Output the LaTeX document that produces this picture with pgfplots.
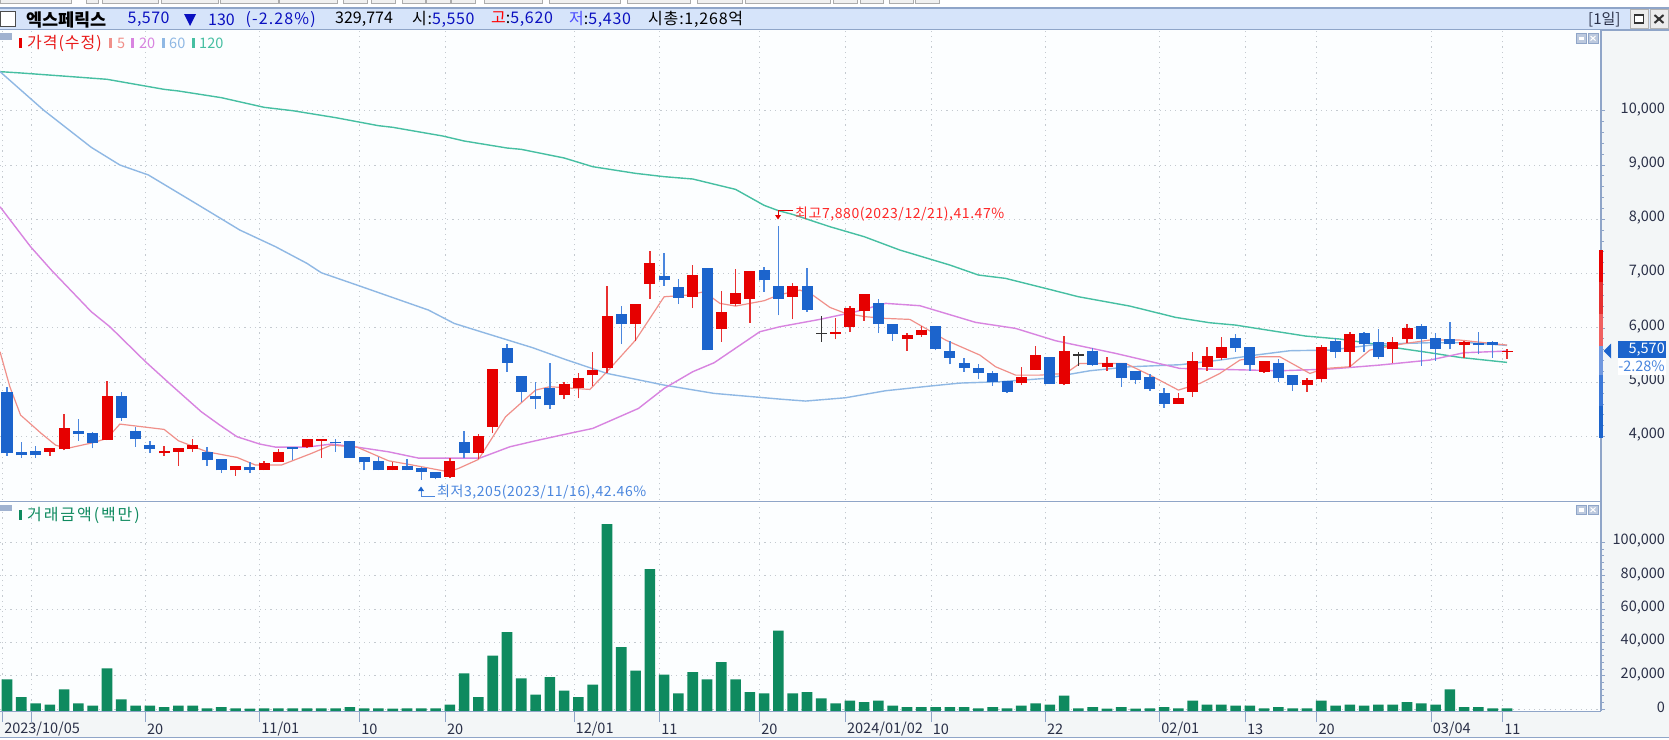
\documentclass[border=0pt]{standalone}
\usepackage{fontspec}
\setmainfont{Noto Sans CJK KR}
\usepackage{pgfplots}
\usepackage{pgfplotstable}
\pgfplotsset{compat=1.18}
\definecolor{cRed}{HTML}{E60000}
\definecolor{cRedW}{HTML}{E83030}
\definecolor{cBlue}{HTML}{1C64CC}
\definecolor{cBlueW}{HTML}{4A86DE}
\definecolor{cMA5}{HTML}{F0908A}
\definecolor{cMA20}{HTML}{D884E0}
\definecolor{cMA60}{HTML}{8FB8E4}
\definecolor{cMA120}{HTML}{46BFA2}
\definecolor{cVol}{HTML}{0F8A5F}
\definecolor{cAxis}{HTML}{8FA5C8}
\definecolor{cPanel}{HTML}{F3F6F7}
\definecolor{cHead}{HTML}{D6E4FA}
\definecolor{cNavy}{HTML}{0A10C0}
\definecolor{cTxt}{HTML}{2A3048}
\definecolor{cGrid}{HTML}{C4CAD0}
\definecolor{cBack}{HTML}{FCFEFF}
\definecolor{sA}{HTML}{E80000}
\definecolor{sB}{HTML}{E63030}
\definecolor{sC}{HTML}{F06060}
\definecolor{sD}{HTML}{7098DF}
\definecolor{sE}{HTML}{3B78D8}
\pgfplotstableread{
i top bot hi lo
3 3781 3720 3781 3646
4 4150 3763 4408 3745
7 4752 3929 5028 3929
11 3739 3689 3825 3646
12 3788 3720 3788 3462
13 3849 3769 3947 3720
16 3462 3376 3462 3278
18 3505 3376 3554 3376
19 3720 3536 3763 3536
21 3947 3812 3947 3788
22 3947 3923 3947 3603
27 3462 3376 3530 3376
31 3554 3260 3597 3229
33 4015 3696 4039 3579
34 5237 4181 5237 4058
39 4973 4764 5010 4684
40 5071 4899 5163 4703
41 5218 5126 5556 4930
42 6225 5261 6778 5163
44 6434 6072 6434 5759
45 7189 6809 7423 6532
48 6980 6575 7165 6366
50 6293 5980 6686 5746
51 6637 6440 7079 6403
52 7054 6538 7054 6096
55 6772 6575 6821 6158
58 5924 5894 6176 5795
59 6360 6022 6409 5924
60 6618 6305 6618 6133
63 5875 5795 5899 5580
64 5967 5863 6034 5838
71 5101 4991 5279 4948
72 5506 5224 5672 5224
74 5580 4960 5856 4948
77 5347 5279 5463 5212
82 4702 4597 4794 4597
83 5396 4825 5556 4733
84 5482 5285 5648 5212
85 5648 5445 5832 5408
88 5396 5193 5396 5175
91 5046 4942 5077 4825
92 5648 5052 5691 5009
94 5881 5562 5924 5279
97 5740 5605 5832 5353
98 5992 5789 6065 5715
102 5740 5678 5764 5445
105 5570 5550 5620 5430
}\upTable
\pgfplotstableread{
i top bot hi lo
0 4825 3689 4905 3646
1 3714 3653 3898 3610
2 3739 3653 3831 3610
5 4107 4039 4316 3923
6 4058 3880 4082 3781
8 4752 4340 4819 4291
9 4107 3947 4181 3812
10 3849 3769 3923 3696
14 3720 3560 3800 3462
15 3579 3376 3579 3327
17 3438 3376 3524 3327
20 3800 3763 3800 3567
23 3898 3874 3953 3720
24 3923 3603 3923 3603
25 3622 3536 3622 3376
26 3554 3376 3622 3376
28 3462 3376 3579 3376
29 3419 3352 3438 3205
30 3352 3235 3352 3211
32 3898 3696 4107 3597
35 5623 5353 5697 5194
36 5120 4825 5120 4629
37 4745 4684 5010 4506
38 4899 4574 5347 4506
43 6250 6072 6409 5703
46 6962 6882 7373 6778
47 6753 6557 6894 6440
49 7097 5587 7097 5587
53 7073 6882 7116 6667
54 6778 6538 7880 6231
56 6778 6330 7097 6299
61 6464 6071 6526 5906
62 6065 5893 6065 5764
65 6034 5605 6034 5586
66 5580 5451 5758 5328
67 5347 5267 5439 5193
68 5255 5169 5334 5058
69 5163 5003 5212 4935
70 5021 4825 5021 4806
73 5463 4966 5463 4966
76 5580 5316 5623 5304
78 5347 5083 5347 4917
79 5212 5034 5212 4960
80 5089 4868 5156 4843
81 4794 4597 4886 4530
86 5807 5629 5881 5562
87 5648 5310 5648 5212
89 5347 5077 5420 5009
90 5138 4942 5138 4843
93 5764 5562 5807 5445
95 5899 5697 5924 5562
96 5740 5470 5973 5420
99 6041 5789 6065 5304
100 5807 5605 5899 5396
101 5789 5703 6108 5605
103 5721 5678 5924 5513
104 5740 5678 5764 5445
}\downTable
\pgfplotstableread{
i top bot hi lo
57 5912 5888 6219 5746
75 5512 5488 5549 5304
}\dojiTable
\pgfplotstableread{
i v
0 17800
1 7200
2 3400
3 2600
4 11800
5 3400
6 2000
7 24400
8 5800
9 2000
10 2000
11 1200
12 2000
13 2000
14 400
15 1200
16 400
17 200
18 400
19 400
20 400
21 400
22 400
23 400
24 1200
25 400
26 400
27 200
28 400
29 400
30 400
31 2600
32 21400
33 7200
34 32000
35 46200
36 18400
37 8600
38 19200
39 11000
40 7200
41 14600
42 111000
43 37200
44 23000
45 84000
46 20600
47 9400
48 22200
49 17800
50 28200
51 17800
52 10200
53 9400
54 47000
55 9400
56 10200
57 6400
58 3400
59 5000
60 4200
61 5000
62 2000
63 1200
64 1200
65 1200
66 1200
67 1200
68 400
69 1200
70 400
71 2000
72 3400
73 2600
74 8000
75 400
76 1200
77 200
78 1200
79 200
80 400
81 1200
82 400
83 5000
84 2600
85 2600
86 2000
87 2000
88 400
89 1200
90 400
91 400
92 5000
93 2000
94 2600
95 2000
96 2600
97 2600
98 4200
99 3400
100 2600
101 11800
102 1200
103 1200
104 400
105 400
}\volTable
\pgfplotsset{
 myframe/.style={
  scale only axis, width=1601pt,
  xmin=-0.49, xmax=111.58,
  axis line style={draw=none},
  axis background/.style={fill=cBack},
  tick align=outside,
  xmajorgrids, ymajorgrids,
  major grid style={cGrid, line width=0.9pt, dash pattern=on 1.2pt off 4pt},
  ytick pos=right,
  y tick style={cAxis, line width=0.8pt},
  minor y tick style={cAxis, line width=0.8pt},
  major tick length=4pt, minor tick length=3pt,
  xtick={-0.31,1.69,9.69,17.69,24.69,30.69,39.69,45.69,52.69,58.69,64.69,72.69,80.69,86.69,91.69,99.69,104.69},
  scaled y ticks=false,
  y tick label style={/pgf/number format/.cd,fixed,1000 sep={,},assume math mode=true,/tikz/.cd,
    font=\fontsize{14.5}{16}\selectfont, text=cTxt, anchor=east, xshift=63.5pt, yshift=1.5pt},
 },
 wick/.style={no markers, draw=none, forget plot,
   error bars/.cd, y dir=plus, y explicit, error mark=none,
   error bar style={color=#1, line width=1.5pt}},
 body/.style={no markers, draw=none, forget plot,
   error bars/.cd, y dir=plus, y explicit, error mark=none,
   error bar style={color=#1, line width=11pt}},
}
\newcommand{\lsp}[1]{\addfontfeature{LetterSpace=#1}}
\begin{document}
\begin{tikzpicture}[x=1pt,y=-1pt]
\path[use as bounding box] (0,0) rectangle (1669,739);
% window backgrounds
\fill[white] (0,0) rectangle (1669,739);
\fill[cPanel] (1602,30) rectangle (1669,737);
\fill[cPanel] (0,711) rectangle (1669,737);
% toolbar stubs
\foreach \a/\b in {0/71,86/98,102/158,161/218,220/278,279/337,343/367,371/395,402/425,426/450,451/475,484/542,549/620,627/690,697/742,745/830,833/857,860/883,889/913,915/939}{
  \filldraw[fill=gray!12, draw=gray!65, line width=0.8pt] (\a,-2) rectangle (\b,3);
}
% header band
\fill[cHead] (0,8) rectangle (1669,30);
\draw[cAxis, line width=1.2pt] (0,8) -- (1669,8);
\draw[cAxis, line width=1.2pt] (0,30) -- (1669,30);
\begin{axis}[myframe, at={(0pt,-500pt)}, anchor=south west, height=470pt,
  ymin=2831, ymax=11486,
  xticklabels={}, x tick style={draw=none},
  ytick={4000,5000,6000,7000,8000,9000,10000}, minor y tick num=4]
\addplot[cMA120, line width=1.4pt] coordinates {(-0.49,10719)(1,10694)(4.5,10627)(7,10578)(11,10393)(12,10363)(15,10240)(18,10062)(20,10000)(23,9872)(26,9724)(27,9694)(30.5,9534)(32,9442)(35,9313)(36,9288)(39,9129)(41,8969)(44,8846)(46,8785)(48,8742)(51,8551)(53,8257)(54,8159)(55,8090)(57.6,7864)(60,7680)(62.5,7434)(66,7158)(68,6974)(69.9,6912)(72.7,6728)(75,6574)(78.6,6402)(81.8,6194)(84.2,6095)(86,6052)(90.9,5850)(93.3,5795)(95.4,5715)(97.5,5623)(99.6,5543)(101.7,5457)(105,5365)};
\addplot[cMA60, line width=1.4pt] coordinates {(-0.49,10719)(2.55,10013)(5.9,9325)(7.9,9000)(9.9,8816)(13.4,8263)(16.3,7802)(18.8,7495)(21,7188)(22,7016)(24.5,6789)(29.5,6329)(31.3,6083)(33.4,5911)(36.8,5635)(39.2,5408)(42,5162)(46,4947)(49.5,4794)(54.1,4689)(55.9,4653)(58.7,4714)(61.5,4843)(64.6,4929)(66.7,4984)(69.5,5009)(72.7,5070)(75.8,5211)(78.6,5285)(82.1,5322)(84.9,5408)(87.4,5500)(89.8,5580)(92.6,5592)(96.1,5703)(99.6,5727)(102.4,5727)(105,5678)};
\addplot[cMA20, line width=1.4pt] coordinates {(-0.49,8232)(1.65,7495)(3.1,7066)(5.9,6298)(7.2,6022)(9.7,5377)(11.5,4947)(13.6,4456)(14.9,4210)(16.1,3996)(17.7,3861)(18.8,3805)(21,3805)(22.7,3861)(24.5,3805)(26.7,3719)(28.8,3603)(33.1,3603)(35.2,3811)(37,3922)(38.8,4026)(41,4149)(44.2,4517)(46,4886)(48,5193)(49.5,5359)(52.7,5930)(54.1,6022)(56.9,6157)(59.4,6298)(61.5,6452)(63.9,6409)(67.8,6102)(70.6,5991)(73.4,5764)(77.6,5531)(82.1,5254)(89.1,5211)(92.6,5242)(96.1,5316)(99.6,5408)(102,5543)(105,5574)};
\addplot[cMA5, line width=1.2pt] coordinates {(-0.49,5561)(0.2,4917)(0.95,4395)(2.4,4057)(3.4,3842)(4.2,3781)(6,3885)(7,3965)(7.9,4229)(11,4131)(12,3922)(14,3719)(16.1,3615)(17.4,3474)(19.2,3474)(21.3,3688)(22.7,3842)(24.5,3805)(26.7,3554)(28.4,3474)(30.9,3351)(31.6,3412)(33,3578)(34.9,4364)(37,4855)(38,4917)(40.8,4867)(42,5193)(44,5776)(46,6574)(47.7,6605)(48.8,6666)(49.9,6452)(51,6402)(53,6501)(54,6605)(55.5,6697)(56.4,6605)(57.6,6378)(58.7,6267)(60.1,6206)(61.5,6175)(63.2,6157)(64.3,5991)(65.7,5776)(68.1,5500)(69.2,5285)(70.6,5131)(72.3,5131)(74.1,5162)(75.1,5346)(78.3,5346)(80,5131)(82,4855)(83.5,4978)(84.9,5162)(86.3,5408)(87.7,5469)(89.1,5469)(91.2,5162)(92.3,5254)(94,5285)(95.4,5592)(97.9,5715)(99.6,5776)(101.7,5776)(105,5684)};
% wicks
\addplot[wick=cRedW] table[x=i,y=lo,y error expr=\thisrow{hi}-\thisrow{lo}] {\upTable};
\addplot[wick=cBlueW] table[x=i,y=lo,y error expr=\thisrow{hi}-\thisrow{lo}] {\downTable};
\addplot[wick={black!80}] table[x=i,y=lo,y error expr=\thisrow{hi}-\thisrow{lo}] {\dojiTable};
% bodies
\addplot[body=cRed] table[x=i,y=bot,y error expr=\thisrow{top}-\thisrow{bot}] {\upTable};
\addplot[body=cBlue] table[x=i,y=bot,y error expr=\thisrow{top}-\thisrow{bot}] {\downTable};
\addplot[body={black!80}] table[x=i,y=bot,y error expr=\thisrow{top}-\thisrow{bot}] {\dojiTable};
\end{axis}
\begin{axis}[myframe, at={(0pt,-711pt)}, anchor=south west, height=208pt,
  ymin=-1200, ymax=123600,
  ytick={0,20000,40000,60000,80000,100000}, minor y tick num=4,
  xticklabels={2023/10/05,,20,11/01,10,20,12/01,11,20,2024/01/02,10,22,02/01,13,20,03/04,11},
  x tick style={color=cAxis, line width=0.9pt, /pgfplots/major tick length=11pt},
  xtick pos=bottom,
  x tick label style={font=\fontsize{14.5}{16}\selectfont, text=cTxt, anchor=west, inner sep=0pt, xshift=1.5pt, yshift=-14pt},
  ybar, bar shift=0pt, bar width=10.6pt]
\addplot[fill=cVol, draw=none] table[x=i,y=v] {\volTable};
\addplot[fill=cVol, draw=none] table[x=i,y expr=-1200] {\volTable};
\end{axis}
% axis and panel lines
\draw[cAxis, line width=1.2pt] (1601,30) -- (1601,711);
\draw[cAxis, line width=1.2pt] (0,711.5) -- (1601,711.5);
\draw[cAxis, line width=1.2pt] (0,737.5) -- (1669,737.5);
\draw[cAxis, line width=1pt] (0,501.5) -- (1601,501.5);
% price-volume band on scale
\fill[sA] (1599,250) rectangle (1603,282);
\fill[sB] (1599,282) rectangle (1603,314);
\fill[sC] (1599,314) rectangle (1603,346);
\fill[sD] (1599,346) rectangle (1603,375);
\fill[sE] (1599,375) rectangle (1603,406);
\fill[cBlue] (1599,406) rectangle (1603,438);
% current price
\fill[cBlue] (1603.5,351) -- (1611,343.5) -- (1611,358.5) -- cycle;
\fill[cBlue] (1618,341) rectangle (1666,358);
\fill[white] (1618,358) rectangle (1666,375);
\node[anchor=east, inner sep=0, text=white, font=\fontsize{14.5}{16}\selectfont] at (1665,349.5) {5,570};
\node[anchor=east, inner sep=0, text=cBlueW, font=\fontsize{14.5}{16}\selectfont] at (1665,366.5) {-2.28\%};
% header text
\draw[black!70, fill=white, line width=1pt] (0.5,11) rectangle (15,26);
\node[anchor=west, inner sep=0, font=\bfseries\fontsize{17.5}{18}\selectfont] at (26,19.5) {엑스페릭스};
\node[anchor=west, inner sep=0, text=cNavy, font=\fontsize{16}{18}\selectfont\lsp{3}] at (127.5,19.5) {5,570};
\fill[cNavy] (184,14) -- (196,14) -- (190,26) -- cycle;
\node[anchor=west, inner sep=0, text=cNavy, font=\fontsize{16}{18}\selectfont] at (208,19.5) {130};
\node[anchor=west, inner sep=0, text=cNavy, font=\fontsize{16}{18}\selectfont\lsp{7}] at (245.5,19.5) {(-2.28\%)};
\node[anchor=west, inner sep=0, font=\fontsize{16}{18}\selectfont] at (335,19.5) {329,774};
\node[anchor=west, inner sep=0, font=\fontsize{16}{18}\selectfont\lsp{4}] at (412,19.5) {시:\textcolor{cNavy}{5,550}};
\node[anchor=west, inner sep=0, font=\fontsize{16}{18}\selectfont\lsp{4}] at (491,19.5) {\textcolor{red}{고}\textcolor{black}{:}\textcolor{cNavy}{5,620}};
\node[anchor=west, inner sep=0, font=\fontsize{16}{18}\selectfont\lsp{4}] at (569,19.5) {\textcolor{blue!70!white}{저}\textcolor{black}{:}\textcolor{cNavy}{5,430}};
\node[anchor=west, inner sep=0, font=\fontsize{16}{18}\selectfont\lsp{5}] at (648,19.5) {시총:1,268억};
\node[anchor=west, inner sep=0, text=cTxt, font=\fontsize{15}{17}\selectfont] at (1588,19.5) {[1일]};
\foreach \a in {1630,1650}{\filldraw[fill=gray!15, draw=gray!60, line width=0.8pt] (\a,9.5) rectangle (\a+18,28);}
\filldraw[fill=white, draw=black!80, line width=1.5pt] (1634.5,15) rectangle (1643.5,23);
\draw[black!80, line width=2pt] (1654.5,15) -- (1663.5,23) (1654.5,23) -- (1663.5,15);
% legend top
\fill[cAxis!85!white] (0,33) rectangle (12,40);
\fill[cRed] (19,38) rectangle (22,48);
\node[anchor=west, inner sep=0, text=cRed!90!white, font=\fontsize{16}{18}\selectfont\lsp{6}] at (27,43) {가격(수정)};
\fill[cMA5] (109,38) rectangle (112,48);
\node[anchor=west, inner sep=0, text=cMA5, font=\fontsize{14.5}{16}\selectfont] at (117,43) {5};
\fill[cMA20] (131,38) rectangle (134,48);
\node[anchor=west, inner sep=0, text=cMA20, font=\fontsize{14.5}{16}\selectfont] at (139,43) {20};
\fill[cMA60] (162,38) rectangle (165,48);
\node[anchor=west, inner sep=0, text=cMA60, font=\fontsize{14.5}{16}\selectfont] at (169,43) {60};
\fill[cMA120] (192,38) rectangle (195,48);
\node[anchor=west, inner sep=0, text=cMA120, font=\fontsize{14.5}{16}\selectfont] at (199,43) {120};
% legend bottom
\fill[cAxis!85!white] (0,505) rectangle (12,511);
\fill[cVol] (19,510) rectangle (22,520);
\node[anchor=west, inner sep=0, text=cVol, font=\fontsize{16}{18}\selectfont\lsp{12}] at (27,515) {거래금액(백만)};
% small panel icons
\foreach \y in {33.5,505}{
 \filldraw[fill=cAxis!60!white, draw=cAxis] (1576,\y) rectangle (1586,\y+9.5);
 \fill[white] (1578.5,\y+3) rectangle (1583.5,\y+6.5);
 \filldraw[fill=cAxis!60!white, draw=cAxis] (1588,\y) rectangle (1598,\y+9.5);
 \draw[white, line width=1pt] (1590.5,\y+2.5) -- (1595.5,\y+7) (1590.5,\y+7) -- (1595.5,\y+2.5);
}
% annotations
\draw[red!85!black, line width=1pt] (793,210.7) -- (778,210.7) -- (778,217);
\fill[cRed] (775,215) -- (781,215) -- (778,219.5) -- cycle;
\node[anchor=west, inner sep=0, text=red!85!white, font=\fontsize{14}{16}\selectfont\lsp{4}] at (795,214) {최고7,880(2023/12/21),41.47\%};
\draw[cBlueW, line width=1pt] (435,496) -- (421,496) -- (421,489);
\fill[cBlue] (418,491) -- (424,491) -- (421,486.5) -- cycle;
\node[anchor=west, inner sep=0, text=cBlueW, font=\fontsize{14}{16}\selectfont\lsp{4}] at (437,492.5) {최저3,205(2023/11/16),42.46\%};
\end{tikzpicture}
\end{document}
